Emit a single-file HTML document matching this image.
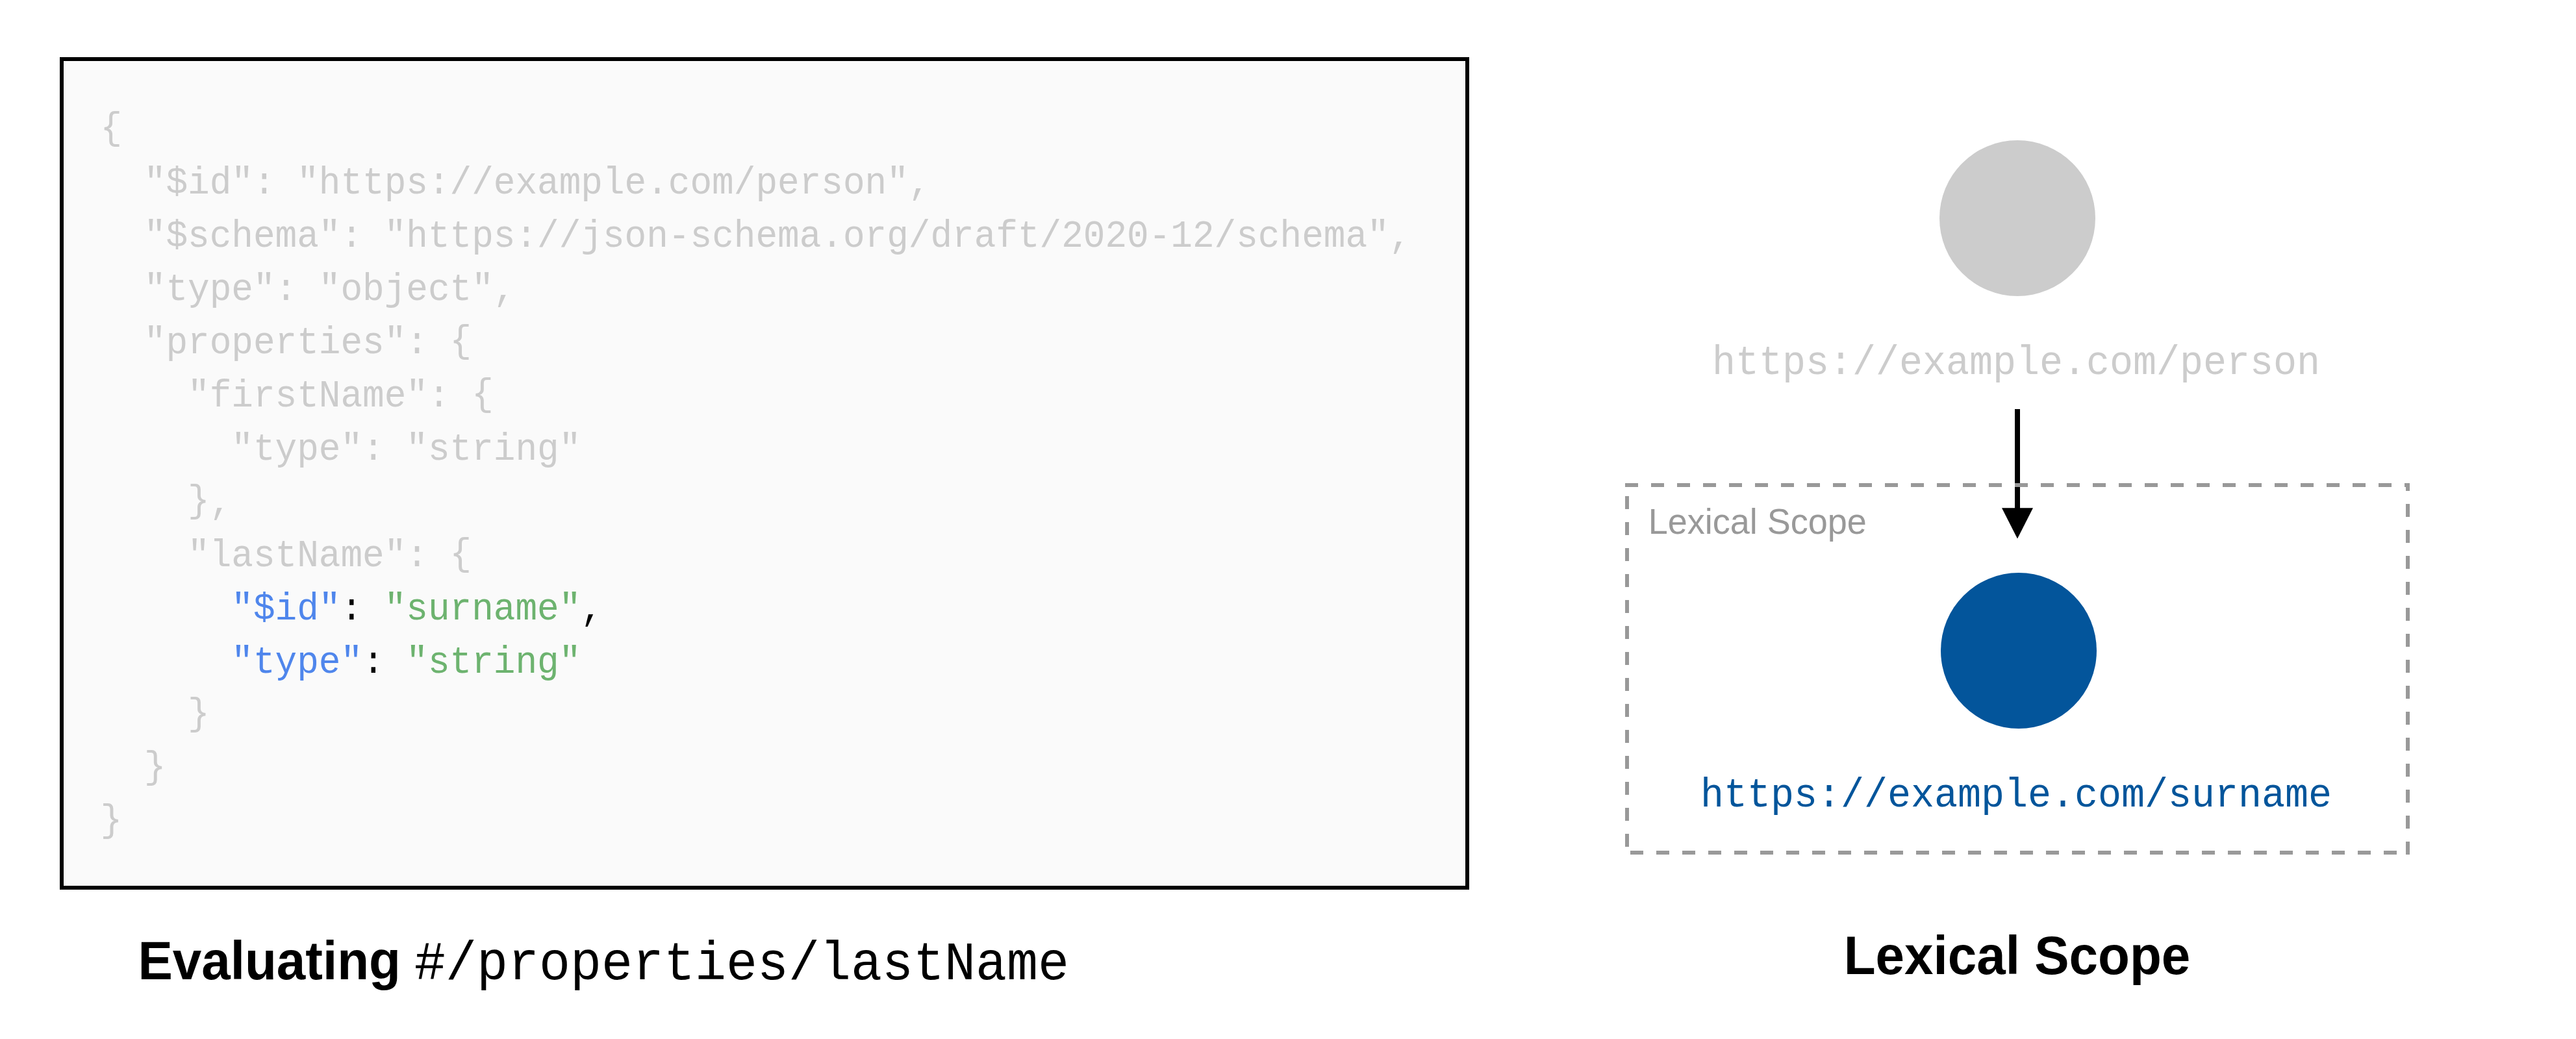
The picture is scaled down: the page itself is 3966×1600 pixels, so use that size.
<!DOCTYPE html><html><head><meta charset="utf-8"><style>html,body{margin:0;padding:0;background:#fff;width:3966px;height:1600px;overflow:hidden}svg{display:block}</style></head><body>
<svg width="3966" height="1600" viewBox="0 0 3966 1600">
<rect x="0" y="0" width="3966" height="1600" fill="#fff"/>
<rect x="92" y="88" width="2170" height="1282" fill="#000"/>
<rect x="98" y="94" width="2158" height="1270" fill="#fff"/>
<rect x="99" y="95" width="2156" height="1268" fill="#fafafa"/>
<g transform="translate(0,215.60) scale(1,1.050)">
<text x="154.50" y="-1.7" font-family='"Liberation Mono", monospace' font-size="56.041" fill="#cccccc" textLength="33.63" lengthAdjust="spacingAndGlyphs" xml:space="preserve">{</text>
</g>
<g transform="translate(0,297.60) scale(1,1.050)">
<text x="221.76" y="0" font-family='"Liberation Mono", monospace' font-size="56.041" fill="#cccccc" textLength="1210.68" lengthAdjust="spacingAndGlyphs" xml:space="preserve">&quot;$id&quot;: &quot;https://example.com/person&quot;,</text>
</g>
<g transform="translate(0,379.60) scale(1,1.050)">
<text x="221.76" y="0" font-family='"Liberation Mono", monospace' font-size="56.041" fill="#cccccc" textLength="1950.54" lengthAdjust="spacingAndGlyphs" xml:space="preserve">&quot;$schema&quot;: &quot;https://json-schema.org/draft/2020-12/schema&quot;,</text>
</g>
<g transform="translate(0,461.60) scale(1,1.050)">
<text x="221.76" y="0" font-family='"Liberation Mono", monospace' font-size="56.041" fill="#cccccc" textLength="571.71" lengthAdjust="spacingAndGlyphs" xml:space="preserve">&quot;type&quot;: &quot;object&quot;,</text>
</g>
<g transform="translate(0,543.60) scale(1,1.050)">
<text x="221.76" y="0" font-family='"Liberation Mono", monospace' font-size="56.041" fill="#cccccc" textLength="470.82" lengthAdjust="spacingAndGlyphs" xml:space="preserve">&quot;properties&quot;: </text>
<text x="692.58" y="-1.7" font-family='"Liberation Mono", monospace' font-size="56.041" fill="#cccccc" textLength="33.63" lengthAdjust="spacingAndGlyphs" xml:space="preserve">{</text>
</g>
<g transform="translate(0,625.60) scale(1,1.050)">
<text x="289.02" y="0" font-family='"Liberation Mono", monospace' font-size="56.041" fill="#cccccc" textLength="437.19" lengthAdjust="spacingAndGlyphs" xml:space="preserve">&quot;firstName&quot;: </text>
<text x="726.21" y="-1.7" font-family='"Liberation Mono", monospace' font-size="56.041" fill="#cccccc" textLength="33.63" lengthAdjust="spacingAndGlyphs" xml:space="preserve">{</text>
</g>
<g transform="translate(0,707.60) scale(1,1.050)">
<text x="356.28" y="0" font-family='"Liberation Mono", monospace' font-size="56.041" fill="#cccccc" textLength="538.08" lengthAdjust="spacingAndGlyphs" xml:space="preserve">&quot;type&quot;: &quot;string&quot;</text>
</g>
<g transform="translate(0,789.60) scale(1,1.050)">
<text x="289.02" y="-1.7" font-family='"Liberation Mono", monospace' font-size="56.041" fill="#cccccc" textLength="33.63" lengthAdjust="spacingAndGlyphs" xml:space="preserve">}</text>
<text x="322.65" y="0" font-family='"Liberation Mono", monospace' font-size="56.041" fill="#cccccc" textLength="33.63" lengthAdjust="spacingAndGlyphs" xml:space="preserve">,</text>
</g>
<g transform="translate(0,871.60) scale(1,1.050)">
<text x="289.02" y="0" font-family='"Liberation Mono", monospace' font-size="56.041" fill="#cccccc" textLength="403.56" lengthAdjust="spacingAndGlyphs" xml:space="preserve">&quot;lastName&quot;: </text>
<text x="692.58" y="-1.7" font-family='"Liberation Mono", monospace' font-size="56.041" fill="#cccccc" textLength="33.63" lengthAdjust="spacingAndGlyphs" xml:space="preserve">{</text>
</g>
<g transform="translate(0,953.60) scale(1,1.050)">
<text x="356.28" y="0" font-family='"Liberation Mono", monospace' font-size="56.041" fill="#4f86ec" textLength="168.15" lengthAdjust="spacingAndGlyphs" xml:space="preserve">&quot;$id&quot;</text>
<text x="524.43" y="0" font-family='"Liberation Mono", monospace' font-size="56.041" fill="#000" textLength="33.63" lengthAdjust="spacingAndGlyphs" xml:space="preserve">:</text>
<text x="591.69" y="0" font-family='"Liberation Mono", monospace' font-size="56.041" fill="#6db36f" textLength="302.67" lengthAdjust="spacingAndGlyphs" xml:space="preserve">&quot;surname&quot;</text>
<text x="894.36" y="0" font-family='"Liberation Mono", monospace' font-size="56.041" fill="#000" textLength="33.63" lengthAdjust="spacingAndGlyphs" xml:space="preserve">,</text>
</g>
<g transform="translate(0,1035.60) scale(1,1.050)">
<text x="356.28" y="0" font-family='"Liberation Mono", monospace' font-size="56.041" fill="#4f86ec" textLength="201.78" lengthAdjust="spacingAndGlyphs" xml:space="preserve">&quot;type&quot;</text>
<text x="558.06" y="0" font-family='"Liberation Mono", monospace' font-size="56.041" fill="#000" textLength="33.63" lengthAdjust="spacingAndGlyphs" xml:space="preserve">:</text>
<text x="625.32" y="0" font-family='"Liberation Mono", monospace' font-size="56.041" fill="#6db36f" textLength="269.04" lengthAdjust="spacingAndGlyphs" xml:space="preserve">&quot;string&quot;</text>
</g>
<g transform="translate(0,1117.60) scale(1,1.050)">
<text x="289.02" y="-1.7" font-family='"Liberation Mono", monospace' font-size="56.041" fill="#cccccc" textLength="33.63" lengthAdjust="spacingAndGlyphs" xml:space="preserve">}</text>
</g>
<g transform="translate(0,1199.60) scale(1,1.050)">
<text x="221.76" y="-1.7" font-family='"Liberation Mono", monospace' font-size="56.041" fill="#cccccc" textLength="33.63" lengthAdjust="spacingAndGlyphs" xml:space="preserve">}</text>
</g>
<g transform="translate(0,1281.60) scale(1,1.050)">
<text x="154.50" y="-1.7" font-family='"Liberation Mono", monospace' font-size="56.041" fill="#cccccc" textLength="33.63" lengthAdjust="spacingAndGlyphs" xml:space="preserve">}</text>
</g>
<circle cx="3106" cy="336" r="120" fill="#cccccc"/>
<g transform="translate(0,575.80) scale(1,1.050)"><text x="2635.90" y="0" font-family='"Liberation Mono", monospace' font-size="59.991" fill="#cccccc" textLength="936.00" lengthAdjust="spacingAndGlyphs">https://example.com/person</text></g>
<rect x="3102" y="630" width="8" height="154" fill="#000"/>
<polygon points="3082,782.2 3130,782.2 3106,829.5" fill="#000"/>
<g fill="#999999">
<rect x="2502" y="744" width="20" height="6"/>
<rect x="2542" y="744" width="20" height="6"/>
<rect x="2582" y="744" width="20" height="6"/>
<rect x="2622" y="744" width="20" height="6"/>
<rect x="2662" y="744" width="20" height="6"/>
<rect x="2702" y="744" width="20" height="6"/>
<rect x="2742" y="744" width="20" height="6"/>
<rect x="2782" y="744" width="20" height="6"/>
<rect x="2822" y="744" width="20" height="6"/>
<rect x="2862" y="744" width="20" height="6"/>
<rect x="2902" y="744" width="20" height="6"/>
<rect x="2942" y="744" width="20" height="6"/>
<rect x="2982" y="744" width="20" height="6"/>
<rect x="3022" y="744" width="20" height="6"/>
<rect x="3062" y="744" width="20" height="6"/>
<rect x="3102" y="744" width="20" height="6"/>
<rect x="3142" y="744" width="20" height="6"/>
<rect x="3182" y="744" width="20" height="6"/>
<rect x="3222" y="744" width="20" height="6"/>
<rect x="3262" y="744" width="20" height="6"/>
<rect x="3302" y="744" width="20" height="6"/>
<rect x="3342" y="744" width="20" height="6"/>
<rect x="3382" y="744" width="20" height="6"/>
<rect x="3422" y="744" width="20" height="6"/>
<rect x="3462" y="744" width="20" height="6"/>
<rect x="3502" y="744" width="20" height="6"/>
<rect x="3542" y="744" width="20" height="6"/>
<rect x="3582" y="744" width="20" height="6"/>
<rect x="3622" y="744" width="20" height="6"/>
<rect x="3662" y="744" width="20" height="6"/>
<rect x="3702" y="744" width="8" height="6"/>
<rect x="3704" y="744" width="6" height="12"/>
<rect x="3704" y="776" width="6" height="20"/>
<rect x="3704" y="816" width="6" height="20"/>
<rect x="3704" y="856" width="6" height="20"/>
<rect x="3704" y="896" width="6" height="20"/>
<rect x="3704" y="936" width="6" height="20"/>
<rect x="3704" y="976" width="6" height="20"/>
<rect x="3704" y="1016" width="6" height="20"/>
<rect x="3704" y="1056" width="6" height="20"/>
<rect x="3704" y="1096" width="6" height="20"/>
<rect x="3704" y="1136" width="6" height="20"/>
<rect x="3704" y="1176" width="6" height="20"/>
<rect x="3704" y="1216" width="6" height="20"/>
<rect x="3704" y="1256" width="6" height="20"/>
<rect x="3704" y="1296" width="6" height="20"/>
<rect x="3670" y="1310" width="20" height="6"/>
<rect x="3630" y="1310" width="20" height="6"/>
<rect x="3590" y="1310" width="20" height="6"/>
<rect x="3550" y="1310" width="20" height="6"/>
<rect x="3510" y="1310" width="20" height="6"/>
<rect x="3470" y="1310" width="20" height="6"/>
<rect x="3430" y="1310" width="20" height="6"/>
<rect x="3390" y="1310" width="20" height="6"/>
<rect x="3350" y="1310" width="20" height="6"/>
<rect x="3310" y="1310" width="20" height="6"/>
<rect x="3270" y="1310" width="20" height="6"/>
<rect x="3230" y="1310" width="20" height="6"/>
<rect x="3190" y="1310" width="20" height="6"/>
<rect x="3150" y="1310" width="20" height="6"/>
<rect x="3110" y="1310" width="20" height="6"/>
<rect x="3070" y="1310" width="20" height="6"/>
<rect x="3030" y="1310" width="20" height="6"/>
<rect x="2990" y="1310" width="20" height="6"/>
<rect x="2950" y="1310" width="20" height="6"/>
<rect x="2910" y="1310" width="20" height="6"/>
<rect x="2870" y="1310" width="20" height="6"/>
<rect x="2830" y="1310" width="20" height="6"/>
<rect x="2790" y="1310" width="20" height="6"/>
<rect x="2750" y="1310" width="20" height="6"/>
<rect x="2710" y="1310" width="20" height="6"/>
<rect x="2670" y="1310" width="20" height="6"/>
<rect x="2630" y="1310" width="20" height="6"/>
<rect x="2590" y="1310" width="20" height="6"/>
<rect x="2550" y="1310" width="20" height="6"/>
<rect x="2510" y="1310" width="20" height="6"/>
<rect x="2502" y="1284" width="6" height="20"/>
<rect x="2502" y="1244" width="6" height="20"/>
<rect x="2502" y="1204" width="6" height="20"/>
<rect x="2502" y="1164" width="6" height="20"/>
<rect x="2502" y="1124" width="6" height="20"/>
<rect x="2502" y="1084" width="6" height="20"/>
<rect x="2502" y="1044" width="6" height="20"/>
<rect x="2502" y="1004" width="6" height="20"/>
<rect x="2502" y="964" width="6" height="20"/>
<rect x="2502" y="924" width="6" height="20"/>
<rect x="2502" y="884" width="6" height="20"/>
<rect x="2502" y="844" width="6" height="20"/>
<rect x="2502" y="804" width="6" height="20"/>
<rect x="2502" y="764" width="6" height="20"/>
</g>
<text x="2537.7" y="822" font-family='"Liberation Sans", sans-serif' font-size="56.4" fill="#999999" textLength="336.22" lengthAdjust="spacingAndGlyphs">Lexical Scope</text>
<circle cx="3108" cy="1002" r="120" fill="#03559b"/>
<g transform="translate(0,1242.00) scale(1,1.050)"><text x="2618.00" y="0" font-family='"Liberation Mono", monospace' font-size="59.991" fill="#03559b" textLength="972.00" lengthAdjust="spacingAndGlyphs">https://example.com/surname</text></g>
<text x="212.4" y="1508" font-family='"Liberation Sans", sans-serif' font-size="83.1" font-weight="bold" fill="#000" textLength="404.53" lengthAdjust="spacingAndGlyphs">Evaluating</text>
<g transform="translate(0,1508.00) scale(1,1.050)"><text x="638.00" y="0" font-family='"Liberation Mono", monospace' font-size="80.000" fill="#000" textLength="1008.00" lengthAdjust="spacingAndGlyphs">#/properties/lastName</text></g>
<text x="2838.75" y="1500" font-family='"Liberation Sans", sans-serif' font-size="83.1" font-weight="bold" fill="#000" textLength="533.59" lengthAdjust="spacingAndGlyphs">Lexical Scope</text>
</svg></body></html>
